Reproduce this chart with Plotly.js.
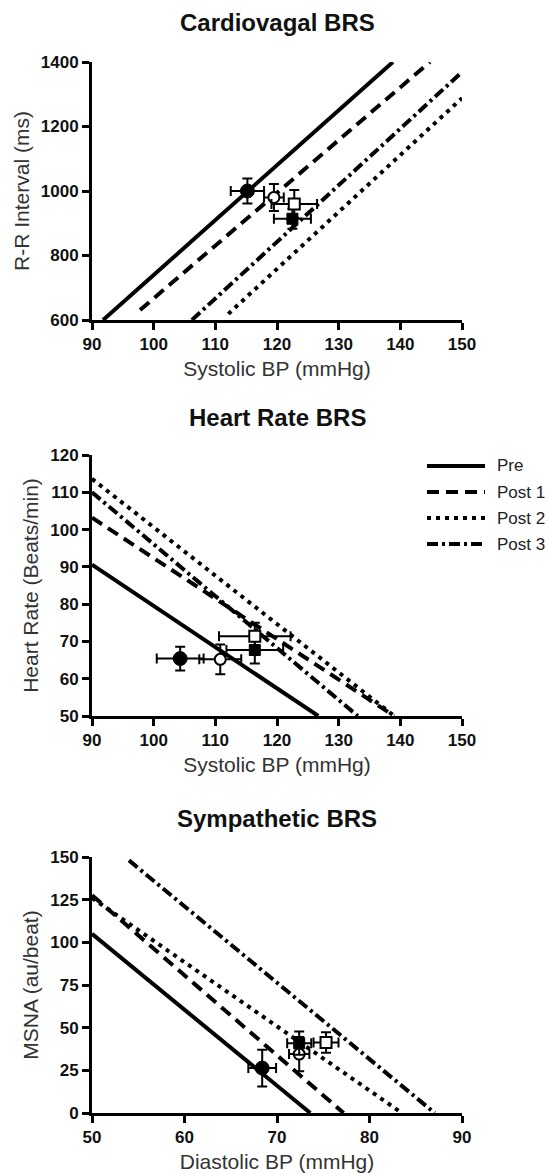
<!DOCTYPE html>
<html>
<head>
<meta charset="utf-8">
<script src="https://cdn.plot.ly/plotly-3.0.1.min.js"></script>
<style>html,body{margin:0;padding:0;background:#fff}#chart{width:546px;height:1174px}</style>
</head>
<body>
<div id="chart"></div>
<script>
// ---------- data ----------
const groups = ["Pre", "Post 1", "Post 2", "Post 3"];

// Cardiovagal BRS (regression lines: endpoints; means ± error)
const cvLineX = [[91.8, 138.8], [97.8, 144.8], [112.1, 150], [106.2, 150]];
const cvLineY = [[600, 1400], [631, 1400], [619, 1288], [600, 1369]];
const cvSbp = [115.2, 119.5, 122.8, 122.5];
const cvSbpErr = [2.7, 1.6, 3.7, 3.0];
const cvRri = [1000, 980, 960, 914];
const cvRriErr = [39, 42, 43, 31];

// Heart Rate BRS
const hrLineX = [[90, 126.7], [90, 139], [90, 139], [90, 133.1]];
const hrLineY = [[90.6, 50], [103.2, 50], [113.6, 50], [110, 50]];
const hrSbp = [104.3, 110.8, 116.4, 116.4];
const hrSbpErr = [3.8, 3.4, 5.8, 4.6];
const hrRate = [65.4, 65.2, 71.4, 67.7];
const hrRateErr = [3.2, 4.0, 3.6, 3.6];

// Sympathetic BRS
const msLineX = [[50, 73.6], [50, 77.2], [50, 83.5], [54, 87.05]];
const msLineY = [[105, 0], [127.6, 0], [126, 0], [148, 0]];
const msDbp = [68.4, 72.4, 75.3, 72.4];
const msDbpErr = [1.5, 1.1, 1.35, 1.3];
const msna = [26.3, 34.5, 41.3, 40.9];
const msnaErr = [10.7, 10, 6, 6.8];

const xTicks1 = [90, 100, 110, 120, 130, 140, 150];
const yTicks1 = [600, 800, 1000, 1200, 1400];
const yTicks2 = [50, 60, 70, 80, 90, 100, 110, 120];
const xTicks3 = [50, 60, 70, 80, 90];
const yTicks3 = [0, 25, 50, 75, 100, 125, 150];

// ---------- styles ----------
const dashes = ["solid", "12px,7px", "4px,5px", "11px,4px,3px,4px"];
const markers = [
  {symbol: "circle", size: 14, color: "#000", line: {color: "#000", width: 1}},
  {symbol: "circle", size: 11, color: "#fff", line: {color: "#000", width: 2}},
  {symbol: "square", size: 11, color: "#fff", line: {color: "#000", width: 2}},
  {symbol: "square", size: 11, color: "#000", line: {color: "#000", width: 1}}
];
const W = 546, H = 1174;
const L = 92, R = 84;
const PW = W - L - R;
const py = p => 1 - p / H;
const px = p => (p - L) / PW;

const traces = [];
function addPanel(ax, lx, ly, mx, mxe, my, mye) {
  const xa = "x" + (ax === 1 ? "" : ax), ya = "y" + (ax === 1 ? "" : ax);
  groups.forEach((g, i) => {
    traces.push({
      type: "scatter", mode: "lines", x: lx[i], y: ly[i], xaxis: xa, yaxis: ya,
      line: {color: "#000", width: 4, dash: dashes[i]}, showlegend: false, hoverinfo: "skip", name: g
    });
  });
  [0, 1, 3, 2].forEach(i => {
    traces.push({
      type: "scatter", mode: "markers", x: [mx[i]], y: [my[i]], xaxis: xa, yaxis: ya, name: groups[i],
      marker: markers[i], showlegend: false,
      error_x: {type: "data", array: [mxe[i]], color: "#000", thickness: 2, width: 5},
      error_y: {type: "data", array: [mye[i]], color: "#000", thickness: 2, width: 5}
    });
  });
}
addPanel(1, cvLineX, cvLineY, cvSbp, cvSbpErr, cvRri, cvRriErr);
addPanel(2, hrLineX, hrLineY, hrSbp, hrSbpErr, hrRate, hrRateErr);
addPanel(3, msLineX, msLineY, msDbp, msDbpErr, msna, msnaErr);

const FAM = "Liberation Sans, Arial, sans-serif";
const tickFont = {family: FAM, size: 17, color: "#111", weight: "bold"};
const titleFont = {family: FAM, size: 21, color: "#333"};
function xAxis(range, ticks, anchor, title) {
  return {domain: [0, 1], range: range, tickvals: ticks, anchor: anchor, showline: true, linewidth: 3, linecolor: "#000",
    ticks: "outside", ticklen: 7, tickwidth: 3, tickcolor: "#000", showgrid: false, zeroline: false, fixedrange: true,
    tickfont: tickFont, automargin: false, title: {text: title, font: titleFont, standoff: 8}};
}
function yAxis(dom, range, ticks, anchor, title) {
  return {domain: dom, range: range, tickvals: ticks, anchor: anchor, showline: true, linewidth: 3, linecolor: "#000",
    ticks: "outside", ticklen: 7, tickwidth: 3, tickcolor: "#000", showgrid: false, zeroline: false, fixedrange: true,
    tickfont: tickFont, automargin: false, title: {text: title, font: titleFont, standoff: 6}};
}

const dom1 = [py(320), py(62)], dom2 = [py(716), py(455)], dom3 = [py(1113), py(857)];
const panelTitleFont = {family: FAM, size: 24, color: "#111", weight: "bold"};

const legendRows = [466, 492, 518, 544];
const shapes = groups.map((g, i) => ({
  type: "line", xref: "paper", yref: "paper", x0: px(427), x1: px(485), y0: py(legendRows[i]), y1: py(legendRows[i]),
  line: {color: "#000", width: 4, dash: dashes[i]}
}));
const annotations = [
  {text: "Cardiovagal BRS", x: 0.5, y: py(23)},
  {text: "Heart Rate BRS", x: 0.5, y: py(418)},
  {text: "Sympathetic BRS", x: 0.5, y: py(818)}
].map(a => Object.assign(a, {xref: "paper", yref: "paper", xanchor: "center", yanchor: "middle", showarrow: false, font: panelTitleFont}));
groups.forEach((g, i) => annotations.push({
  text: g, xref: "paper", yref: "paper", x: px(495), y: py(legendRows[i]), xanchor: "left", yanchor: "middle",
  showarrow: false, font: {family: FAM, size: 17, color: "#222"}
}));

const layout = {
  width: W, height: H, margin: {l: L, r: R, t: 0, b: 0}, paper_bgcolor: "#fff", plot_bgcolor: "#fff",
  showlegend: false,
  xaxis: xAxis([90, 150], xTicks1, "y", "Systolic BP (mmHg)"),
  yaxis: yAxis(dom1, [600, 1400], yTicks1, "x", "R-R Interval (ms)"),
  xaxis2: xAxis([90, 150], xTicks1, "y2", "Systolic BP (mmHg)"),
  yaxis2: yAxis(dom2, [50, 120], yTicks2, "x2", "Heart Rate (Beats/min)"),
  xaxis3: xAxis([50, 90], xTicks3, "y3", "Diastolic BP (mmHg)"),
  yaxis3: yAxis(dom3, [0, 150], yTicks3, "x3", "MSNA (au/beat)"),
  shapes: shapes, annotations: annotations
};
Plotly.newPlot("chart", traces, layout, {staticPlot: true, displayModeBar: false});
</script>
</body>
</html>
